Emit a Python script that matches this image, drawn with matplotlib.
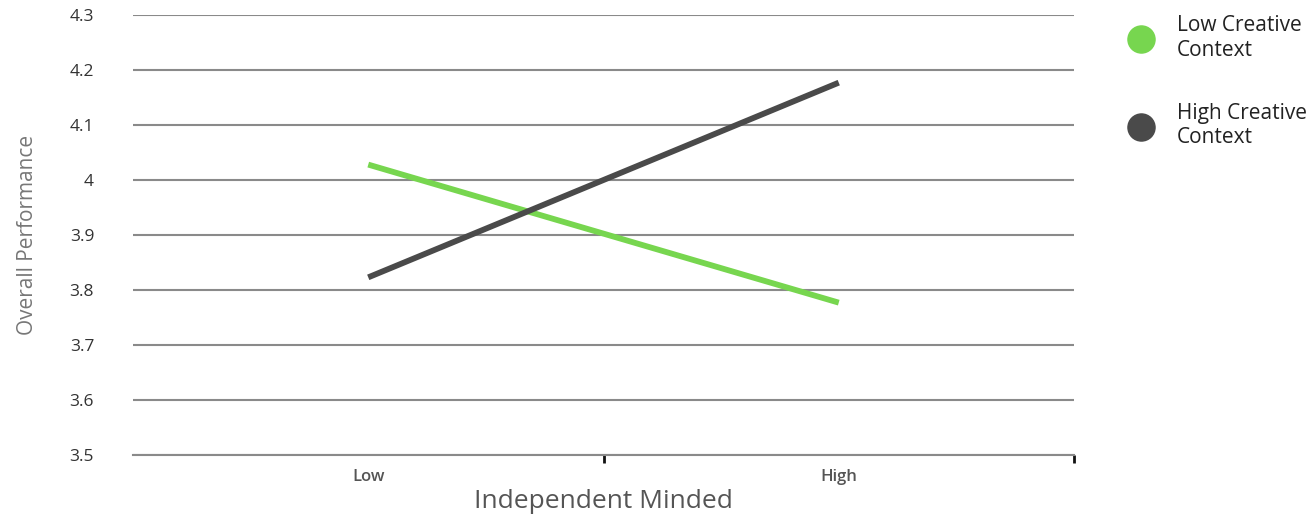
import matplotlib
matplotlib.use("Agg")
import matplotlib.pyplot as plt
from matplotlib.lines import Line2D

plt.rcParams['font.family'] = ['Open Sans', 'DejaVu Sans']

categories = ["Low", "High"]
low_creative = [4.028, 3.777]
high_creative = [3.823, 4.177]
series_names = ["Low Creative\nContext", "High Creative\nContext"]
series_colors = ["#77d64f", "#4a4a4a"]
y_ticks = [3.5, 3.6, 3.7, 3.8, 3.9, 4.0, 4.1, 4.2, 4.3]
y_tick_labels = ["3.5", "3.6", "3.7", "3.8", "3.9", "4", "4.1", "4.2", "4.3"]

fig = plt.figure(figsize=(13.15, 5.16), dpi=100)
ax = fig.add_axes([133 / 1315, 1 - 455 / 516, (1074 - 133) / 1315, (455 - 15) / 516])

x = list(range(len(categories)))
for vals, color in zip([low_creative, high_creative], series_colors):
    ax.plot(x, vals, color=color, linewidth=4.2, solid_capstyle="butt", zorder=3)

ax.set_xlim(-0.5, 1.5)
ax.set_ylim(3.5, 4.3)
ax.set_yticks(y_ticks)
ax.set_yticklabels(y_tick_labels, fontsize=12.5, color="#333333")
ax.tick_params(axis="y", length=0, pad=28)
ax.yaxis.grid(True, color="#8a8a8a", linewidth=1.5)
ax.set_axisbelow(True)

# Category labels centred in their bands, tick marks on the band boundaries
ax.set_xticks([-0.5, 0.5, 1.5])
ax.set_xticklabels([])
ax.set_xticks(x, minor=True)
ax.set_xticklabels(categories, minor=True, fontsize=12, fontweight="semibold", color="#555555")
ax.tick_params(axis="x", which="major", length=6, width=2, color="#111111", direction="out")
ax.tick_params(axis="x", which="minor", length=0, pad=10)
ax.get_xticklines()[0].set_visible(False)
ax.get_xticklines()[1].set_visible(False)

for side in ["top", "right", "left"]:
    ax.spines[side].set_visible(False)
ax.spines["bottom"].set_color("#8a8a8a")
ax.spines["bottom"].set_linewidth(1.5)

ax.set_xlabel("Independent Minded", fontsize=19, color="#555555", labelpad=3)
ax.set_ylabel("Overall Performance", fontsize=15, color="#777777", labelpad=23)

handles = [Line2D([], [], marker="o", linestyle="none", markersize=19.5,
                  markerfacecolor=c, markeredgecolor=c) for c in series_colors]
fig.legend(handles, series_names, loc="upper left", bbox_to_anchor=(1116 / 1315, 1 - 7 / 516),
           frameon=False, fontsize=15, labelspacing=2.05, handletextpad=0.93,
           labelcolor="#222222", borderaxespad=0, handlelength=1.6)

fig.savefig("out.png", dpi=100)
